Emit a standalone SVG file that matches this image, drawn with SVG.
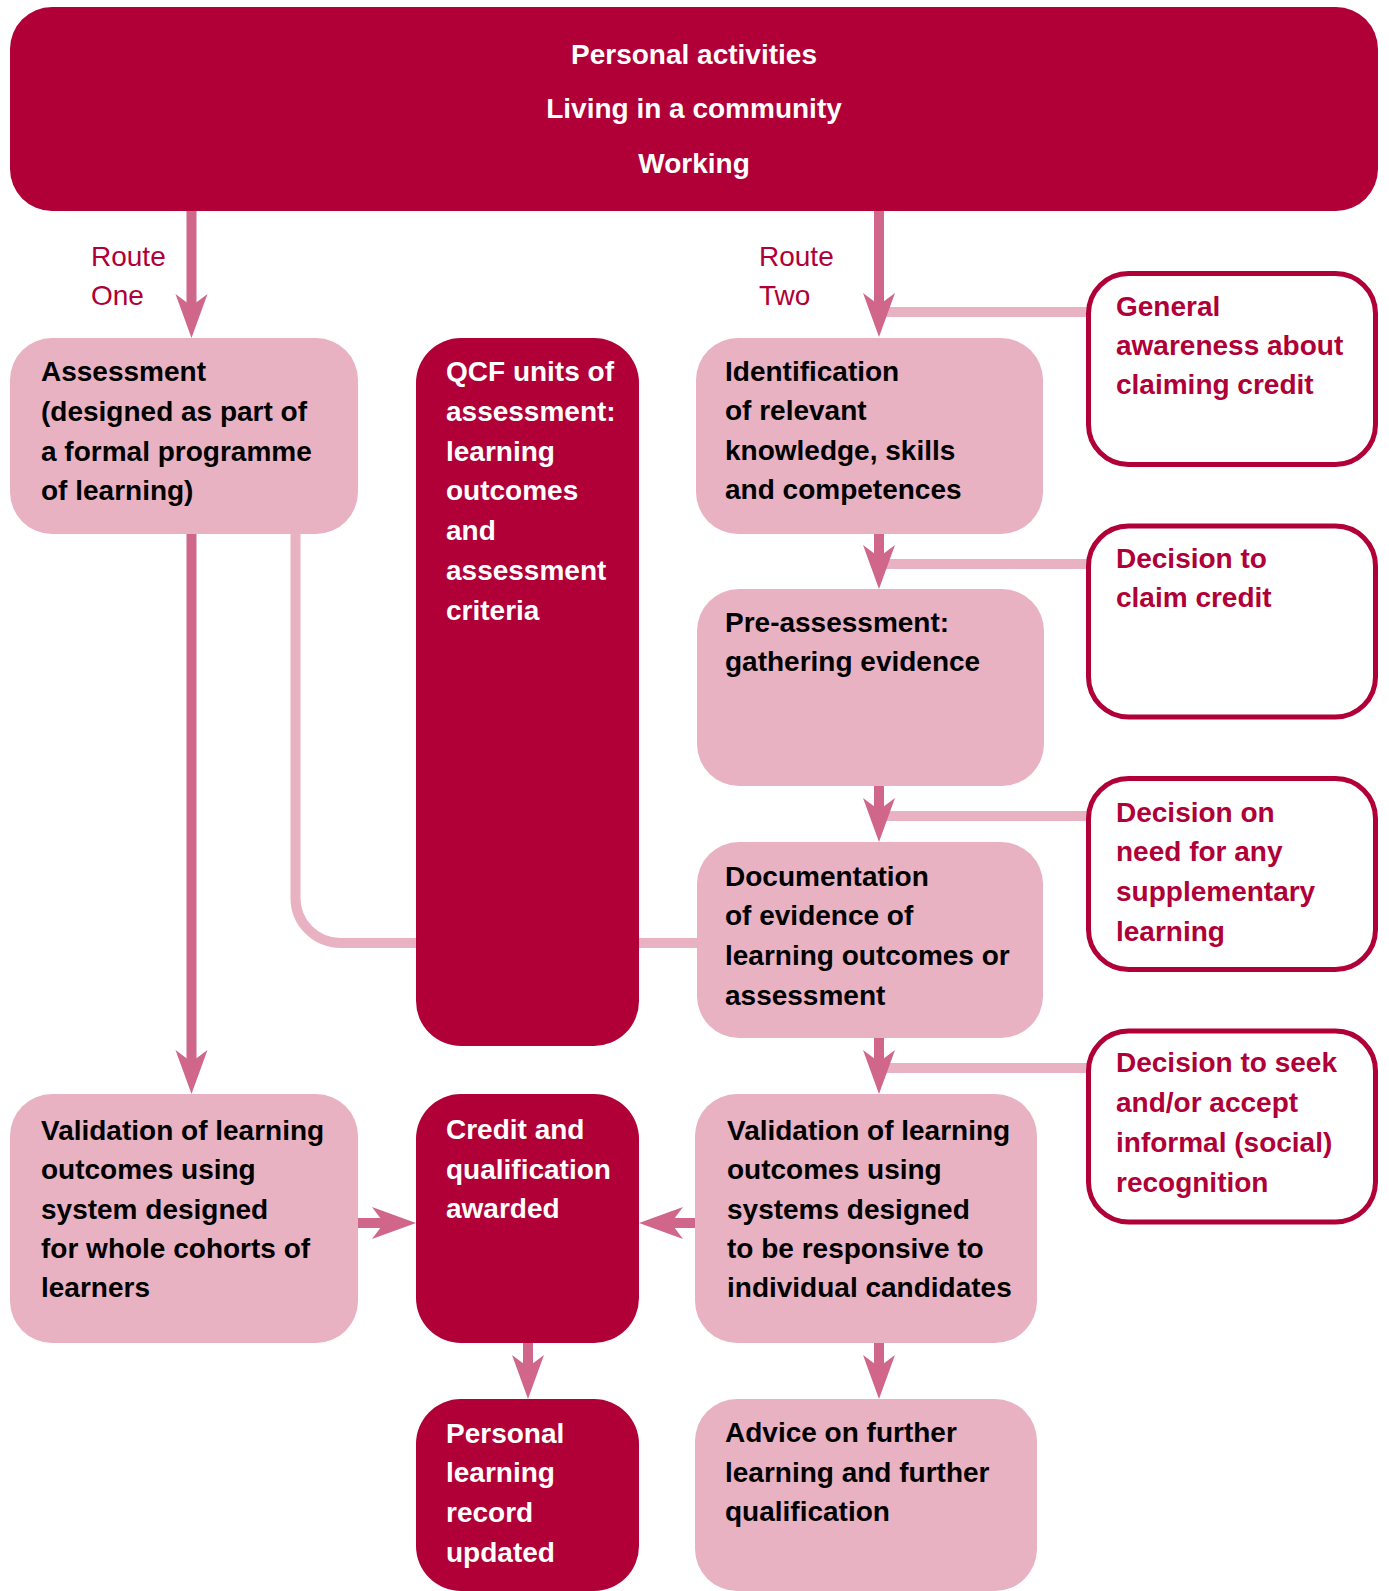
<svg xmlns="http://www.w3.org/2000/svg" width="1389" height="1591" viewBox="0 0 1389 1591">
<style>
text{font-family:"Liberation Sans",Arial,sans-serif;font-size:28px;font-weight:bold}
.dark{fill:#b00037}
.light{fill:#e8b2c2}
.side{fill:#fff;stroke:#b00037;stroke-width:5}
.tw{fill:#fff}
.tb{fill:#000}
.tr{fill:#b00037}
.route{fill:#b00037;font-weight:normal}
.conn{fill:none;stroke:#e8b2c2;stroke-width:10}
.arr{fill:none;stroke:#d0678a;stroke-width:10;marker-end:url(#ah)}
</style>
<defs>
<marker id="ah" markerUnits="userSpaceOnUse" viewBox="-16 -18 48 36" markerWidth="48" markerHeight="36" refX="0" refY="0" orient="auto">
<path d="M30,0 L-14,-16 L-2,0 L-14,16 Z" fill="#d0678a"/>
</marker>
</defs>

<g id="connectors">
<path class="conn" d="M295.5,534 V898 A45,45 0 0 0 340.5,943 H697"/>
<path class="conn" d="M879,312 H1087"/>
<path class="conn" d="M879,564 H1087"/>
<path class="conn" d="M879,816 H1087"/>
<path class="conn" d="M879,1068 H1087"/>
</g>

<g id="banner">
<rect class="dark" x="10" y="7" width="1368" height="204" rx="42"/>
<text class="tw" x="694" y="63.5" text-anchor="middle">Personal activities</text>
<text class="tw" x="694" y="118" text-anchor="middle">Living in a community</text>
<text class="tw" x="694" y="173" text-anchor="middle">Working</text>
</g>

<g id="route-labels">
<text class="route" x="91" y="266">Route</text>
<text class="route" x="91" y="305">One</text>
<text class="route" x="759" y="266">Route</text>
<text class="route" x="759" y="305">Two</text>
</g>

<g id="qcf">
<rect class="dark" x="416" y="338" width="223" height="708" rx="45"/>
<text class="tw" x="446" y="381">QCF units of</text>
<text class="tw" x="446" y="421">assessment:</text>
<text class="tw" x="446" y="460.5">learning</text>
<text class="tw" x="446" y="500">outcomes</text>
<text class="tw" x="446" y="540">and</text>
<text class="tw" x="446" y="580">assessment</text>
<text class="tw" x="446" y="620">criteria</text>
</g>

<g id="assessment">
<rect class="light" x="10" y="338" width="348" height="196" rx="42"/>
<text class="tb" x="41" y="381">Assessment</text>
<text class="tb" x="41" y="421">(designed as part of</text>
<text class="tb" x="41" y="461">a formal programme</text>
<text class="tb" x="41" y="500">of learning)</text>
</g>

<g id="identification">
<rect class="light" x="696" y="338" width="347" height="196" rx="42"/>
<text class="tb" x="725" y="381">Identification</text>
<text class="tb" x="725" y="420">of relevant</text>
<text class="tb" x="725" y="460">knowledge, skills</text>
<text class="tb" x="725" y="499">and competences</text>
</g>

<g id="pre-assessment">
<rect class="light" x="697" y="589" width="347" height="197" rx="42"/>
<text class="tb" x="725" y="632">Pre-assessment:</text>
<text class="tb" x="725" y="671">gathering evidence</text>
</g>

<g id="documentation">
<rect class="light" x="697" y="842" width="346" height="196" rx="42"/>
<text class="tb" x="725" y="886">Documentation</text>
<text class="tb" x="725" y="925">of evidence of</text>
<text class="tb" x="725" y="965">learning outcomes or</text>
<text class="tb" x="725" y="1005">assessment</text>
</g>

<g id="validation-left">
<rect class="light" x="10" y="1094" width="348" height="249" rx="42"/>
<text class="tb" x="41" y="1140">Validation of learning</text>
<text class="tb" x="41" y="1179">outcomes using</text>
<text class="tb" x="41" y="1219">system designed</text>
<text class="tb" x="41" y="1258">for whole cohorts of</text>
<text class="tb" x="41" y="1297">learners</text>
</g>

<g id="credit">
<rect class="dark" x="416" y="1094" width="223" height="249" rx="45"/>
<text class="tw" x="446" y="1139">Credit and</text>
<text class="tw" x="446" y="1179">qualification</text>
<text class="tw" x="446" y="1218">awarded</text>
</g>

<g id="validation-right">
<rect class="light" x="695" y="1094" width="342" height="249" rx="42"/>
<text class="tb" x="727" y="1140">Validation of learning</text>
<text class="tb" x="727" y="1179">outcomes using</text>
<text class="tb" x="727" y="1219">systems designed</text>
<text class="tb" x="727" y="1258">to be responsive to</text>
<text class="tb" x="727" y="1297">individual candidates</text>
</g>

<g id="personal-record">
<rect class="dark" x="416" y="1399" width="223" height="192" rx="45"/>
<text class="tw" x="446" y="1443">Personal</text>
<text class="tw" x="446" y="1482">learning</text>
<text class="tw" x="446" y="1522">record</text>
<text class="tw" x="446" y="1562">updated</text>
</g>

<g id="advice">
<rect class="light" x="695" y="1399" width="342" height="192" rx="42"/>
<text class="tb" x="725" y="1442">Advice on further</text>
<text class="tb" x="725" y="1482">learning and further</text>
<text class="tb" x="725" y="1521">qualification</text>
</g>

<g id="general-awareness">
<rect class="side" x="1088.5" y="273.5" width="287" height="191" rx="40"/>
<text class="tr" x="1116" y="316">General</text>
<text class="tr" x="1116" y="355">awareness about</text>
<text class="tr" x="1116" y="394">claiming credit</text>
</g>

<g id="decision-claim">
<rect class="side" x="1088.5" y="526" width="287" height="191" rx="40"/>
<text class="tr" x="1116" y="568">Decision to</text>
<text class="tr" x="1116" y="607">claim credit</text>
</g>

<g id="decision-supplementary">
<rect class="side" x="1088.5" y="778.5" width="287" height="191" rx="40"/>
<text class="tr" x="1116" y="822">Decision on</text>
<text class="tr" x="1116" y="861">need for any</text>
<text class="tr" x="1116" y="901">supplementary</text>
<text class="tr" x="1116" y="941">learning</text>
</g>

<g id="decision-recognition">
<rect class="side" x="1088.5" y="1031" width="287" height="191" rx="40"/>
<text class="tr" x="1116" y="1072">Decision to seek</text>
<text class="tr" x="1116" y="1112">and/or accept</text>
<text class="tr" x="1116" y="1152">informal (social)</text>
<text class="tr" x="1116" y="1192">recognition</text>
</g>

<g id="arrows">
<path class="arr" d="M191.5,211 V308"/>
<path class="arr" d="M191.5,534 V1064"/>
<path class="arr" d="M879,211 V307"/>
<path class="arr" d="M879,534 V559"/>
<path class="arr" d="M879,786 V812"/>
<path class="arr" d="M879,1038 V1064"/>
<path class="arr" d="M879,1343 V1369"/>
<path class="arr" d="M528,1343 V1369"/>
<path class="arr" d="M358,1223 H386"/>
<path class="arr" d="M695,1223 H669"/>
</g>
</svg>
